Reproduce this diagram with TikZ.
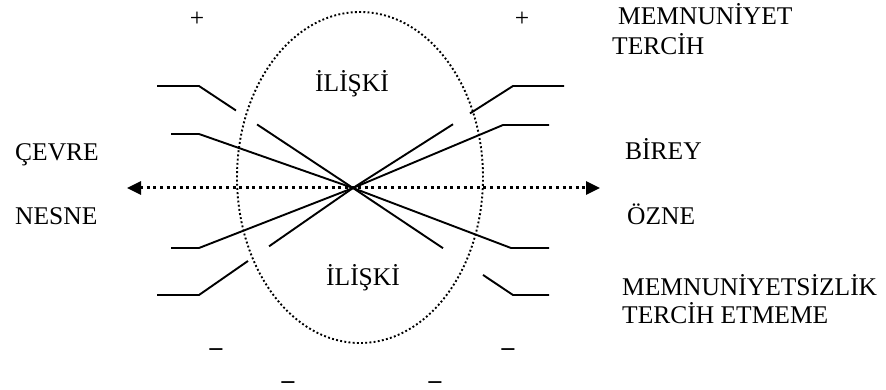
\documentclass[tikz,border=0pt]{standalone}
\usepackage{fontspec}
\setmainfont{Liberation Serif}
\usetikzlibrary{arrows.meta,calc}

\begin{document}
\begin{tikzpicture}[x=1pt, y=-1pt, line join=miter,
    seg/.style={line width=1.9pt},
    lbl/.style={inner sep=0pt, anchor=base west, font=\fontsize{25.5}{28}\selectfont},
    sgn/.style={inner sep=0pt, font=\fontsize{25.5}{28}\selectfont},
    meno/.style={sgn, anchor=base, text height=7pt, text depth=0pt, font=\fontsize{25.5}{28}\selectfont\bfseries},
    tip/.tip={Triangle[length=14pt,width=13pt]}]

\useasboundingbox (0,0) rectangle (886,390);

% Ellisse tratteggiata
\draw[line width=1.9pt, dash pattern=on 1.9pt off 2.3pt] (360,177.5) ellipse [x radius=123pt, y radius=165.5pt];

% Freccia orizzontale
\coordinate (sx) at (127,188);
\coordinate (dx) at (600,188);
\draw[line width=3pt, dash pattern=on 3pt off 3.6pt, tip-tip] (sx) -- (dx);

% Punto di incrocio e gomiti
\coordinate (X) at (353,188);
\coordinate (ul1) at (199,86);
\coordinate (ul2) at (199,134);
\coordinate (ur1) at (513,86);
\coordinate (ur2) at (503,125);
\coordinate (ll1) at (199,248);
\coordinate (ll2) at (199,295);
\coordinate (lr1) at (511,248);
\coordinate (lr2) at (513,295);

% Linee in alto
\draw[seg] (157,86) -- (ul1) -- ($(ul1)!0.24!(X)$);
\draw[seg] ($(ul1)!0.377!(X)$) -- (X);
\draw[seg] (171,134) -- (ul2) -- (X);
\draw[seg] (564,86) -- (ur1) -- ($(ur1)!0.269!(X)$);
\draw[seg] ($(ur1)!0.375!(X)$) -- (X);
\draw[seg] (549,125) -- (ur2) -- (X);

% Linee in basso
\draw[seg] (171,248) -- (ll1) -- (X);
\draw[seg] (157,295) -- (ll2) -- ($(ll2)!0.318!(X)$);
\draw[seg] ($(ll2)!0.455!(X)$) -- (X);
\draw[seg] (549,248) -- (lr1) -- (X);
\draw[seg] (549,295) -- (lr2) -- ($(lr2)!0.1875!(X)$);
\draw[seg] ($(lr2)!0.4375!(X)$) -- (X);

% Segni
\node[sgn] (p1) at (197,19) {+};
\node[sgn] (p2) at (522,19) {+};
\node[meno] (m1) at (216,355) {--};
\node[meno] (m2) at (508,355) {--};
\node[meno] (m3) at (288,388) {--};
\node[meno] (m4) at (435,388) {--};

% Etichette
\node[lbl, anchor=base] (rel1) at (352,92) {İLİŞKİ};
\node[lbl, anchor=base] (rel2) at (363,285) {İLİŞKİ};
\node[lbl] (cevre) at (15,161) {ÇEVRE};
\node[lbl] (nesne) at (15,225) {NESNE};
\node[lbl] (birey) at (625,160) {BİREY};
\node[lbl] (ozne) at (627,225) {ÖZNE};
\node[lbl] (mem) at (618,25) {MEMNUNİYET};
\node[lbl] (ter) at (612,55) {TERCİH};
\node[lbl] (mems) at (622,295) {MEMNUNİYETSİZLİK};
\node[lbl] (tere) at (622,323) {TERCİH ETMEME};

\end{tikzpicture}
\end{document}
